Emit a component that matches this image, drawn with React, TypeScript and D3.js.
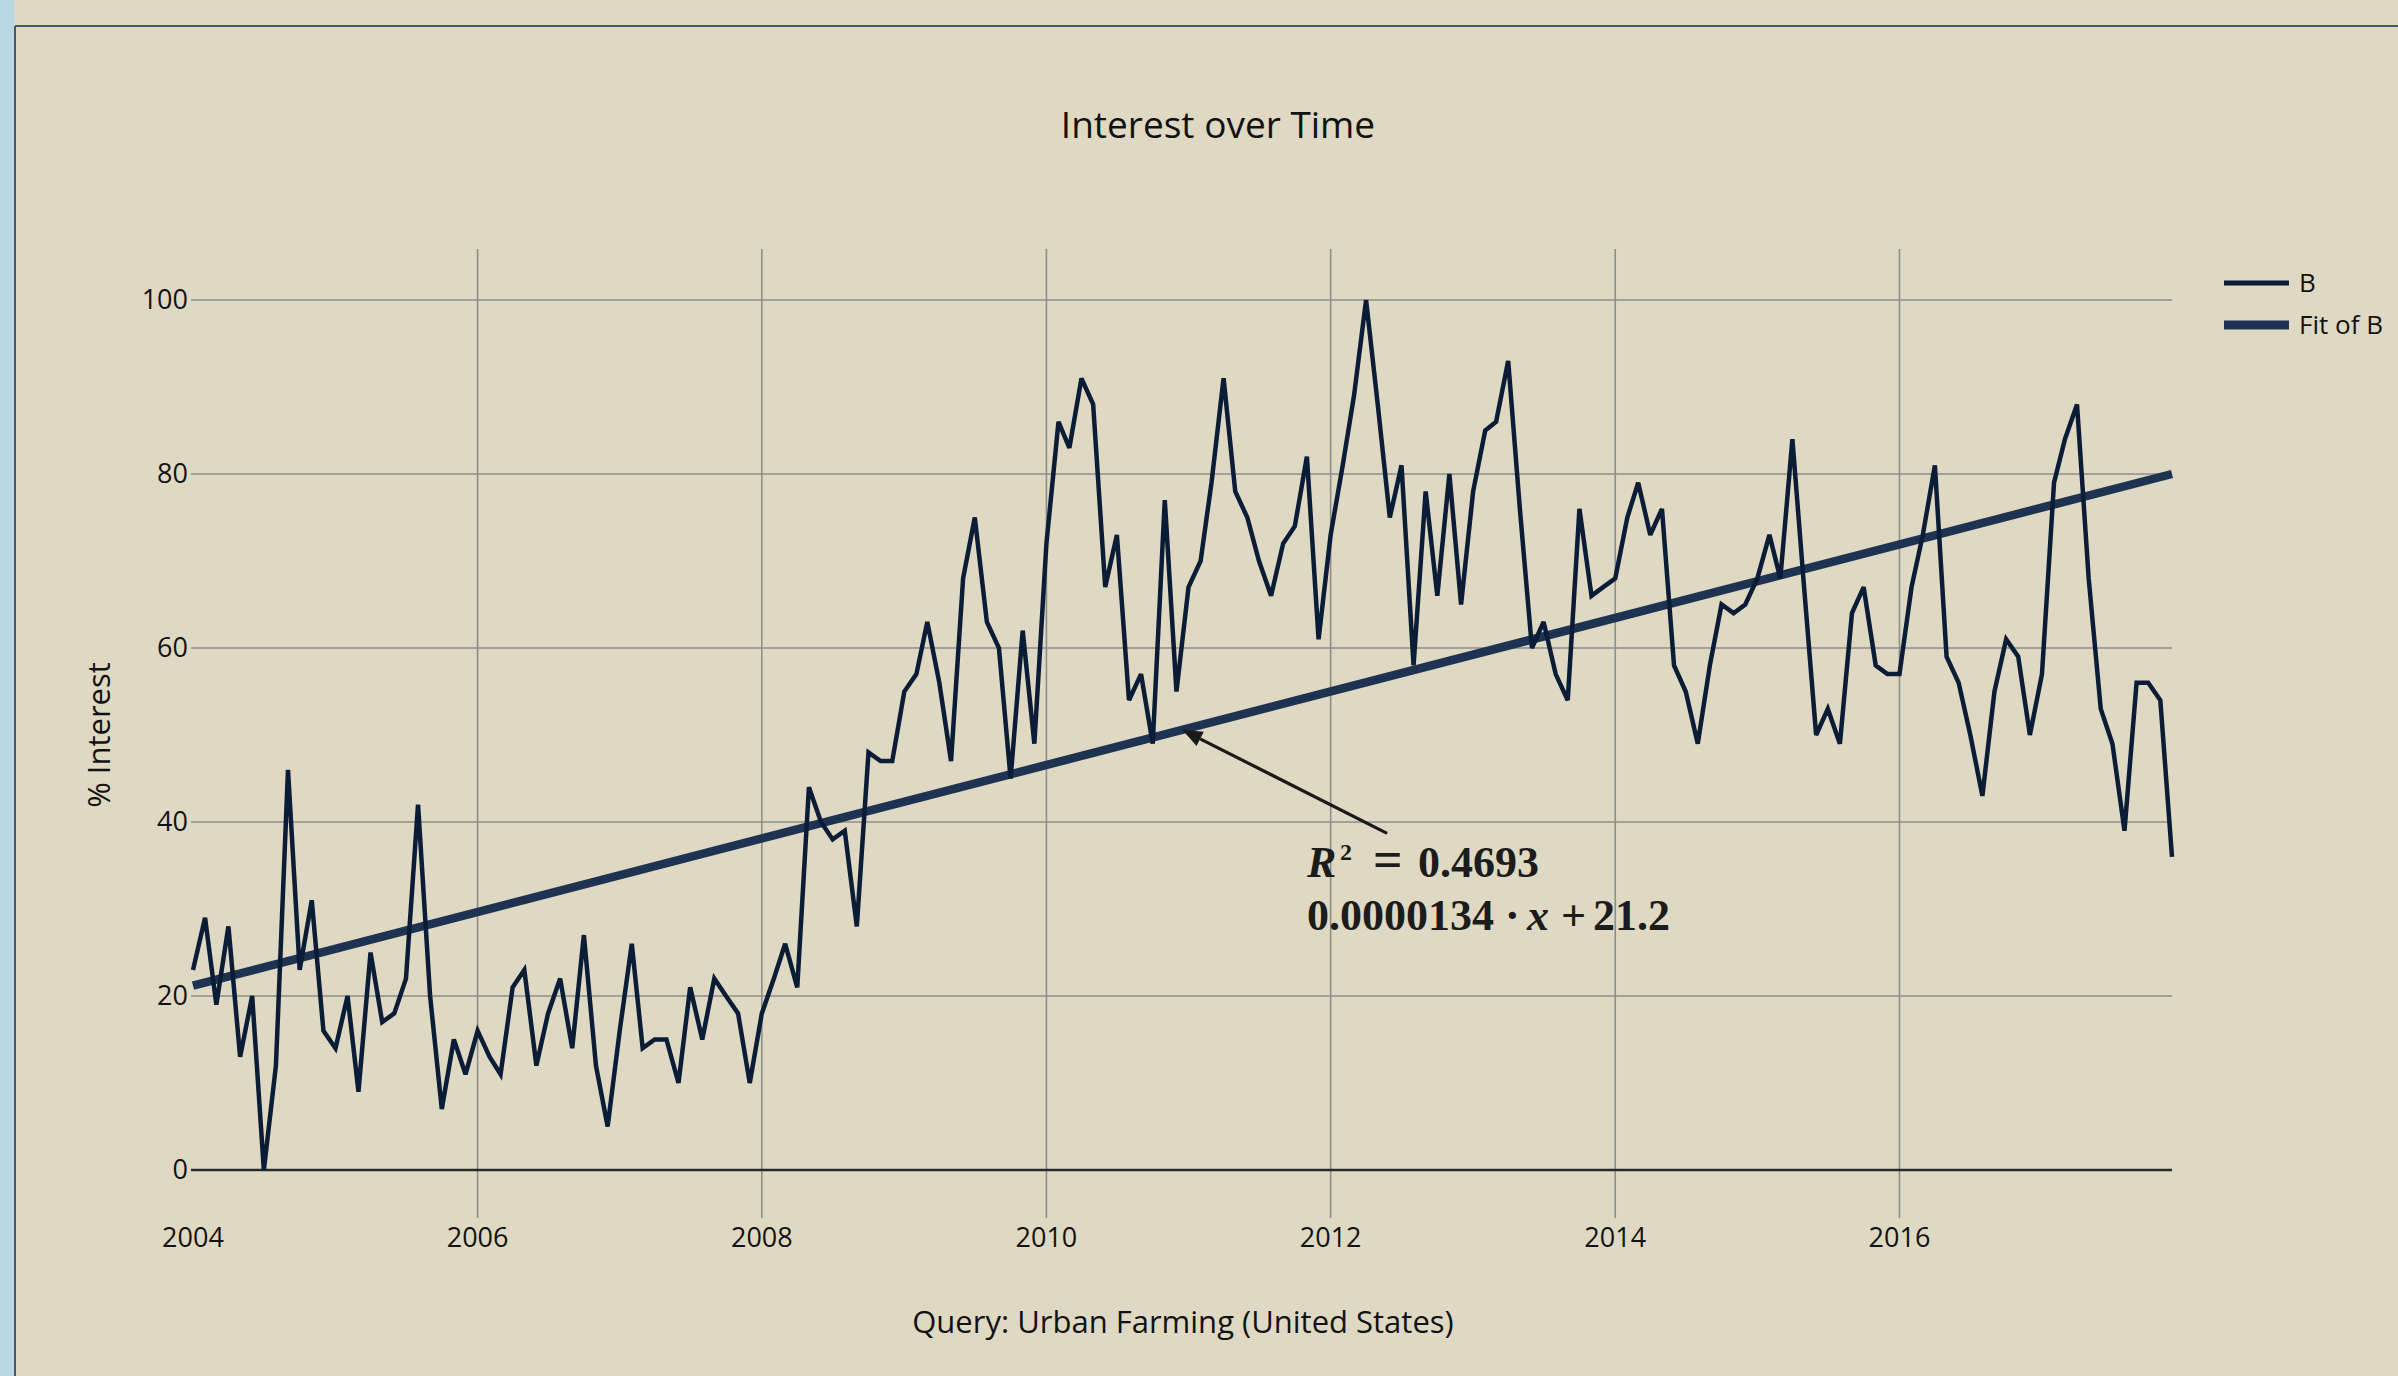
import React, { useRef, useEffect } from 'react';
import * as d3 from 'd3';

const WIDTH = 2398;
const HEIGHT = 1376;

// Monthly search interest, Jan 2004 .. Dec 2017
const startYear = 2004;
const interest = [
  23, 29, 19, 28, 13, 20, 0, 12, 46, 23, 31, 16,
  14, 20, 9, 25, 17, 18, 22, 42, 20, 7, 15, 11,
  16, 13, 11, 21, 23, 12, 18, 22, 14, 27, 12, 5,
  16, 26, 14, 15, 15, 10, 21, 15, 22, 20, 18, 10,
  18, 22, 26, 21, 44, 40, 38, 39, 28, 48, 47, 47,
  55, 57, 63, 56, 47, 68, 75, 63, 60, 45, 62, 49,
  72, 86, 83, 91, 88, 67, 73, 54, 57, 49, 77, 55,
  67, 70, 79, 91, 78, 75, 70, 66, 72, 74, 82, 61,
  73, 81, 89, 100, 88, 75, 81, 58, 78, 66, 80, 65,
  78, 85, 86, 93, 76, 60, 63, 57, 54, 76, 66, 67,
  68, 75, 79, 73, 76, 58, 55, 49, 58, 65, 64, 65,
  68, 73, 68, 84, 67, 50, 53, 49, 64, 67, 58, 57,
  57, 67, 73, 81, 59, 56, 50, 43, 55, 61, 59, 50,
  57, 79, 84, 88, 68, 53, 49, 39, 56, 56, 54, 36,
];

// linear fit, value at first and last month
const fitEnds = [21.2, 80.0];

const yTicks = [0, 20, 40, 60, 80, 100];
const xTickYears = [2004, 2006, 2008, 2010, 2012, 2014, 2016];
const gridYears = [2006, 2008, 2010, 2012, 2014, 2016];
const legendLabels = ['B', 'Fit of B'];

const title = 'Interest over Time';
const xTitle = 'Query: Urban Farming (United States)';
const yTitle = '% Interest';

// annotation: arrow tip sits on the fit line, tail near the label
const arrowTipDate = new Date(2010, 11, 16);
const arrowTailDate = new Date(2012, 4, 25);
const arrowTailValue = 38.7;

const BG = '#dfd9c3';
const DATA_COLOR = '#0b1d36';
const FIT_COLOR = '#1e3251';
const GRID = '#8d8d8d';
const TEXT = '#121212';
const FONT = "'Open Sans', 'Noto Sans', sans-serif";
const MATH_FONT = "'Liberation Serif', 'DejaVu Serif', serif";

const App: React.FC = () => {
  const svgRef = useRef<SVGSVGElement>(null);

  useEffect(() => {
    if (!svgRef.current) return;
    const svg = d3.select(svgRef.current);
    svg.selectAll('*').remove();

    const left = 193;
    const right = 2172;
    const top = 300;
    const bottom = 1170;

    const months = interest.map((_, i) => new Date(startYear, i, 1));
    const first = months[0];
    const last = months[months.length - 1];

    const x = d3.scaleTime().domain([first, last]).range([left, right]);
    const y = d3.scaleLinear().domain([0, 100]).range([bottom, top]);

    // background + frame
    svg.append('rect').attr('width', WIDTH).attr('height', HEIGHT).attr('fill', BG);
    svg.append('rect').attr('x', 0).attr('y', 0).attr('width', 14).attr('height', HEIGHT).attr('fill', '#b9d8e2');
    svg.append('line')
      .attr('x1', 15).attr('x2', WIDTH).attr('y1', 26).attr('y2', 26)
      .attr('stroke', '#4a5668').attr('stroke-width', 2);
    svg.append('line')
      .attr('x1', 15).attr('x2', 15).attr('y1', 26).attr('y2', HEIGHT)
      .attr('stroke', '#4a5668').attr('stroke-width', 2);

    // grid
    svg.append('g')
      .selectAll('line')
      .data(gridYears)
      .join('line')
      .attr('x1', d => x(new Date(d, 0, 1)))
      .attr('x2', d => x(new Date(d, 0, 1)))
      .attr('y1', 249)
      .attr('y2', 1218)
      .attr('stroke', GRID)
      .attr('stroke-width', 1.6);

    svg.append('g')
      .selectAll('line')
      .data(yTicks)
      .join('line')
      .attr('x1', left - 2)
      .attr('x2', right)
      .attr('y1', d => y(d))
      .attr('y2', d => y(d))
      .attr('stroke', d => (d === 0 ? '#2a2a2a' : GRID))
      .attr('stroke-width', d => (d === 0 ? 2.4 : 1.6));

    // tick labels
    svg.append('g')
      .selectAll('text')
      .data(yTicks)
      .join('text')
      .attr('x', left - 5)
      .attr('y', d => y(d))
      .attr('dy', '0.35em')
      .attr('text-anchor', 'end')
      .attr('font-family', FONT)
      .attr('font-size', 27)
      .attr('fill', TEXT)
      .text(d => d);

    svg.append('g')
      .selectAll('text')
      .data(xTickYears)
      .join('text')
      .attr('x', d => x(new Date(d, 0, 1)))
      .attr('y', 1247)
      .attr('text-anchor', 'middle')
      .attr('font-family', FONT)
      .attr('font-size', 27)
      .attr('fill', TEXT)
      .text(d => d);

    // titles
    svg.append('text')
      .attr('x', 1218).attr('y', 138)
      .attr('text-anchor', 'middle')
      .attr('font-family', FONT).attr('font-size', 37)
      .attr('fill', TEXT)
      .text(title);

    svg.append('text')
      .attr('x', 1183).attr('y', 1333)
      .attr('text-anchor', 'middle')
      .attr('font-family', FONT).attr('font-size', 31)
      .attr('fill', TEXT)
      .text(xTitle);

    svg.append('text')
      .attr('transform', 'translate(110,735) rotate(-90)')
      .attr('text-anchor', 'middle')
      .attr('font-family', FONT).attr('font-size', 31)
      .attr('fill', TEXT)
      .text(yTitle);

    // fit line
    const fitLine = d3.line<[Date, number]>()
      .x(d => x(d[0]))
      .y(d => y(d[1]));
    const fitPoints: [Date, number][] = [[first, fitEnds[0]], [last, fitEnds[1]]];
    svg.append('path')
      .attr('d', fitLine(fitPoints) || '')
      .attr('fill', 'none')
      .attr('stroke', FIT_COLOR)
      .attr('stroke-width', 8.5);

    // data line
    const line = d3.line<number>()
      .x((_, i) => x(months[i]))
      .y(d => y(d))
      .curve(d3.curveLinear);
    svg.append('path')
      .attr('d', line(interest) || '')
      .attr('fill', 'none')
      .attr('stroke', DATA_COLOR)
      .attr('stroke-width', 4.5)
      .attr('stroke-linejoin', 'miter')
      .attr('stroke-miterlimit', 3);

    // annotation arrow
    const fitAt = d3.scaleTime().domain([first, last]).range(fitEnds);
    const tipX = x(arrowTipDate);
    const tipY = y(fitAt(arrowTipDate) as unknown as number);
    const tailX = x(arrowTailDate);
    const tailY = y(arrowTailValue);
    const ang = Math.atan2(tipY - tailY, tipX - tailX);
    const headLen = 20;
    const headW = 8;
    const bx = tipX - headLen * Math.cos(ang);
    const by = tipY - headLen * Math.sin(ang);
    svg.append('line')
      .attr('x1', tailX).attr('y1', tailY)
      .attr('x2', bx).attr('y2', by)
      .attr('stroke', '#1a1a1a').attr('stroke-width', 3.2);
    svg.append('path')
      .attr('d', `M${tipX},${tipY} L${bx + headW * Math.sin(ang)},${by - headW * Math.cos(ang)} L${bx - headW * Math.sin(ang)},${by + headW * Math.cos(ang)} Z`)
      .attr('fill', '#1a1a1a');

    const noteX = tailX - 80;
    const note = svg.append('g')
      .attr('font-family', MATH_FONT)
      .attr('font-weight', 'bold')
      .attr('font-size', 44)
      .attr('fill', '#1c1c1c');
    const l1 = note.append('text').attr('y', tailY + 44);
    l1.append('tspan').attr('x', noteX).attr('font-style', 'italic').text('R');
    l1.append('tspan').attr('x', noteX + 33).attr('font-size', 24).attr('dy', -17).text('2');
    l1.append('tspan').attr('x', noteX + 66).attr('dy', 17).attr('font-size', 52).text('=');
    l1.append('tspan').attr('x', noteX + 111).text('0.4693');
    const l2 = note.append('text').attr('y', tailY + 97);
    l2.append('tspan').attr('x', noteX).text('0.0000134');
    l2.append('tspan').attr('x', noteX + 198).text('·');
    l2.append('tspan').attr('x', noteX + 220).attr('font-style', 'italic').text('x');
    l2.append('tspan').attr('x', noteX + 254).text('+');
    l2.append('tspan').attr('x', noteX + 286).text('21.2');

    // legend
    const legend = svg.append('g').attr('transform', 'translate(2224,283)');
    const legendRows = legend.selectAll('g')
      .data(legendLabels)
      .join('g')
      .attr('transform', (_, i) => `translate(0,${i * 42})`);
    legendRows.append('line')
      .attr('x1', 0).attr('x2', 65)
      .attr('y1', 0).attr('y2', 0)
      .attr('stroke', (_, i) => (i === 0 ? DATA_COLOR : FIT_COLOR))
      .attr('stroke-width', (_, i) => (i === 0 ? 5 : 9));
    legendRows.append('text')
      .attr('x', 75)
      .attr('dy', '0.35em')
      .attr('font-family', FONT)
      .attr('font-size', 26)
      .attr('fill', TEXT)
      .text(d => d);
  }, []);

  return (
    <svg
      ref={svgRef}
      width={WIDTH}
      height={HEIGHT}
      style={{ position: 'absolute', left: 0, top: 0, display: 'block' }}
    />
  );
};

export default App;
